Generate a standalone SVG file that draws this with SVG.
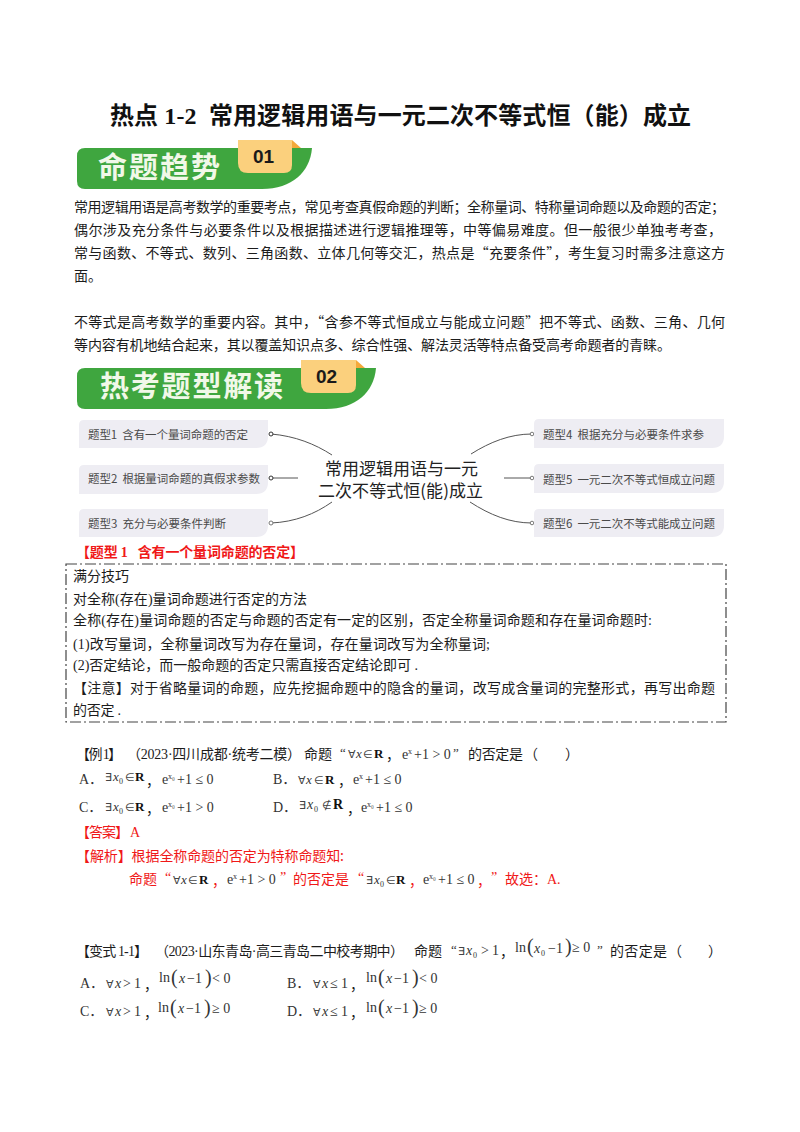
<svg xmlns="http://www.w3.org/2000/svg" width="800" height="1132" viewBox="0 0 800 1132">
<style>
text{font-family:"Noto Sans CJK SC","Liberation Sans",sans-serif;fill:#1c1c1c;font-size:14px;white-space:pre}
.l{font-family:"Liberation Serif","Noto Sans CJK SC",serif}
.m,.mi,.mb,.s,.n{font-family:"Liberation Serif","Noto Sans CJK SC",serif;font-size:13px;fill:#333}
.n{font-size:14px}
.mi{font-style:italic}.mb{font-weight:700;fill:#111}.s{font-size:8px}
.q{font-family:"DejaVu Sans",sans-serif;font-size:11px;fill:#444}
.r{fill:#f01818}.mr{font-family:"Liberation Serif","Noto Sans CJK SC",serif;font-size:14px;fill:#f01818}
.ban{fill:#3fa63f}.tab{fill:#fbd07d}.fold{fill:#f4a93a}
.bt{font-size:29px;font-weight:700;fill:#f1f8e8}.tn{font-family:"Liberation Sans",sans-serif;font-size:19px;font-weight:700;fill:#1a1a1a}
.node{fill:#eeedf3}.nt{font-size:11.5px;fill:#4a4a4a}
.conn{fill:none;stroke:#555;stroke-width:1}
.p{font-size:20px;fill:#333;font-family:"Liberation Serif",serif;font-weight:400}
</style>
<rect width="800" height="1132" fill="#fff"/>
<text class="l" x="110" y="124" textLength="581" style="font-size:24px;font-weight:700;fill:#111">热点 1-2  常用逻辑用语与一元二次不等式恒（能）成立</text>

<g id="banner1">
<path class="ban" d="M85 148H312C310 172 292 189 262 189H85Q77 189 77 181V156Q77 148 85 148Z"/>
<path class="fold" d="M292 140L301 148H292Z"/>
<path class="tab" d="M238 140H292V165Q292 173 284 173H248Q238 173 238 163Z"/>
<text class="bt" x="98" y="178" textLength="122">命题趋势</text>
<text class="tn" x="253" y="163">01</text>
</g>

<g id="intro">
<text x="74" y="212" textLength="651">常用逻辑用语是高考数学的重要考点，常见考查真假命题的判断；全称量词、特称量词命题以及命题的否定；</text>
<text x="74" y="235" textLength="648">偶尔涉及充分条件与必要条件以及根据描述进行逻辑推理等，中等偏易难度。但一般很少单独考考查，</text>
<text x="74" y="258" textLength="651">常与函数、不等式、数列、三角函数、立体几何等交汇，热点是“充要条件”，考生复习时需多注意这方</text>
<text x="74" y="281" textLength="28">面。</text>
<text x="74" y="327" textLength="651">不等式是高考数学的重要内容。其中，“含参不等式恒成立与能成立问题”把不等式、函数、三角、几何</text>
<text x="74" y="350" textLength="597">等内容有机地结合起来，其以覆盖知识点多、综合性强、解法灵活等特点备受高考命题者的青睐。</text>
</g>

<g id="banner2">
<path class="ban" d="M85 368H376C374 392 356 409 326 409H85Q77 409 77 401V376Q77 368 85 368Z"/>
<path class="fold" d="M356 360L365 368H356Z"/>
<path class="tab" d="M301 360H356V385Q356 393 348 393H311Q301 393 301 383Z"/>
<text class="bt" x="100" y="397" textLength="183">热考题型解读</text>
<text class="tn" x="316" y="383">02</text>
</g>

<g id="connectors">
<path class="conn" d="M271 434C295 436 315 444 332 455"/>
<path class="conn" d="M271 478H298"/>
<path class="conn" d="M271 523C295 522 315 514 332 502"/>
<path class="conn" d="M471 454C490 442 510 434 532 434"/>
<path class="conn" d="M504 478H532"/>
<path class="conn" d="M470 502C490 515 510 523 532 523"/>
<circle cx="271" cy="434" r="2" fill="#fff" stroke="#333"/>
<circle cx="271" cy="478" r="2" fill="#fff" stroke="#333"/>
<circle cx="271" cy="523" r="2" fill="#fff" stroke="#777"/>
<circle cx="532" cy="434" r="1.8" fill="#fff" stroke="#777"/>
<circle cx="532" cy="478" r="1.8" fill="#fff" stroke="#777"/>
<circle cx="532" cy="523" r="1.8" fill="#fff" stroke="#777"/>
</g>

<g id="center"><text x="325" y="475" style="font-size:17px;fill:#222" textLength="153">常用逻辑用语与一元</text><text x="318" y="497" style="font-size:17px;fill:#222" textLength="165">二次不等式恒(能)成立</text></g>
<g id="n1"><path class="node" d="M84 420H268V436Q268 448 256 448H79V425Q79 420 84 420Z"/><text class="nt" x="88" y="439" textLength="160">题型1  含有一个量词命题的否定</text></g>
<g id="n2"><path class="node" d="M84 465H268V482Q268 494 256 494H79V470Q79 465 84 465Z"/><text class="nt" x="88" y="483" textLength="172">题型2  根据量词命题的真假求参数</text></g>
<g id="n3"><path class="node" d="M84 509H268V525Q268 537 256 537H79V514Q79 509 84 509Z"/><text class="nt" x="88" y="528" textLength="138">题型3  充分与必要条件判断</text></g>
<g id="n4"><path class="node" d="M539 419H724V436Q724 448 712 448H534V424Q534 419 539 419Z"/><text class="nt" x="543" y="439" textLength="161">题型4  根据充分与必要条件求参</text></g>
<g id="n5"><path class="node" d="M539 464H724V481Q724 493 712 493H534V469Q534 464 539 464Z"/><text class="nt" x="543" y="484" textLength="172">题型5  一元二次不等式恒成立问题</text></g>
<g id="n6"><path class="node" d="M539 509H724V525Q724 537 712 537H534V514Q534 509 539 509Z"/><text class="nt" x="543" y="528" textLength="172">题型6  一元二次不等式能成立问题</text></g>

<text class="r l" x="76" y="557" textLength="228" style="font-weight:700">【题型 1   含有一个量词命题的否定】</text>

<g id="tipbox">
<rect x="66" y="564" width="660" height="158" fill="none" stroke="#444" stroke-width="1.2" stroke-dasharray="11 3 2 3"/>
<text class="l" x="73" y="581" textLength="56">满分技巧</text>
<text class="l" x="73" y="604" textLength="234">对全称(存在)量词命题进行否定的方法</text>
<text class="l" x="73" y="625" textLength="579">全称(存在)量词命题的否定与命题的否定有一定的区别，否定全称量词命题和存在量词命题时:</text>
<text class="l" x="73" y="649" textLength="417">(1)改写量词，全称量词改写为存在量词，存在量词改写为全称量词;</text>
<text class="l" x="73" y="670" textLength="345">(2)否定结论，而一般命题的否定只需直接否定结论即可 .</text>
<text class="l" x="73" y="693" textLength="642">【注意】对于省略量词的命题，应先挖掘命题中的隐含的量词，改写成含量词的完整形式，再写出命题</text>
<text class="l" x="73" y="715" textLength="48">的否定 .</text>
</g>

<g id="ex1">
<text class="l" x="76" y="759" textLength="46">【例 1】</text>
<text class="l" x="127" y="759" textLength="174">（2023·四川成都·统考二模）</text>
<text x="304" y="759" textLength="28">命题</text><text class="m" x="340" y="757">“</text>
<text class="m" y="758"><tspan class="q" x="348">∀</tspan><tspan class="mi" x="356">x</tspan><tspan class="q" x="363">∈</tspan><tspan class="mb" x="374">R</tspan></text><text x="386" y="760">，</text>
<text class="n" y="759"><tspan x="402">e</tspan><tspan class="s" x="408" dy="-5">x</tspan><tspan x="414" dy="5">+1 &gt; 0</tspan></text>
<text class="m" x="453" y="757">”</text><text x="468" y="759" textLength="55">的否定是</text><text x="524" y="759">（</text><text x="565" y="759">）</text>

<text class="n" x="79" y="784">A．</text><text class="m" y="781"><tspan class="q" x="105">∃</tspan><tspan class="mi" x="113">x</tspan><tspan class="s" x="119" dy="3">0</tspan><tspan class="q" x="125" dy="-3">∈</tspan><tspan class="mb" x="135">R</tspan></text><text x="146" y="786">，</text>
<text class="n" y="784"><tspan x="162">e</tspan><tspan class="s" x="168" dy="-5">x₀</tspan><tspan x="177" dy="5">+1 ≤ 0</tspan></text>
<text class="n" x="273" y="784">B．</text><text class="m" y="784"><tspan class="q" x="298">∀</tspan><tspan class="mi" x="306">x</tspan><tspan class="q" x="314">∈</tspan><tspan class="mb" x="325">R</tspan></text><text x="338" y="786">，</text>
<text class="n" y="784"><tspan x="353">e</tspan><tspan class="s" x="359" dy="-5">x</tspan><tspan x="365" dy="5">+1 ≤ 0</tspan></text>

<text class="n" x="79" y="812">C．</text><text class="m" y="811"><tspan class="q" x="105">∃</tspan><tspan class="mi" x="113">x</tspan><tspan class="s" x="119" dy="3">0</tspan><tspan class="q" x="125" dy="-3">∈</tspan><tspan class="mb" x="135">R</tspan></text><text x="146" y="814">，</text>
<text class="n" y="812"><tspan x="162">e</tspan><tspan class="s" x="168" dy="-5">x₀</tspan><tspan x="177" dy="5">+1 &gt; 0</tspan></text>
<text class="n" x="273" y="812">D．</text><text class="m" y="809"><tspan class="q" x="299">∃</tspan><tspan class="mi" x="307" style="font-size:14px">x</tspan><tspan class="s" x="314" dy="3">0</tspan><tspan class="q" x="322" dy="-3">∉</tspan><tspan class="mb" x="333" style="font-size:14px">R</tspan></text><text x="347" y="814">，</text>
<text class="n" y="812"><tspan x="361">e</tspan><tspan class="s" x="367" dy="-5">x₀</tspan><tspan x="376" dy="5">+1 ≤ 0</tspan></text>

<text class="r" x="76" y="837" textLength="53">【答案】</text><text class="mr" x="130" y="837">A</text>
<text class="r" x="76" y="861" textLength="268">【解析】根据全称命题的否定为特称命题知:</text>
<text class="r" x="129" y="884" textLength="28">命题</text><text class="mr" x="165" y="882">“</text>
<text class="m" y="884"><tspan class="q" x="173">∀</tspan><tspan class="mi" x="181">x</tspan><tspan class="q" x="188">∈</tspan><tspan class="mb" x="199">R</tspan></text><text class="r" x="212" y="886">，</text>
<text class="n" y="884"><tspan x="227">e</tspan><tspan class="s" x="233" dy="-5">x</tspan><tspan x="239" dy="5">+1 &gt; 0</tspan></text>
<text class="mr" x="280" y="882">”</text><text class="r" x="293" y="884" textLength="56">的否定是</text><text class="mr" x="358" y="882">“</text>
<text class="m" y="884"><tspan class="q" x="366">∃</tspan><tspan class="mi" x="374">x</tspan><tspan class="s" x="380" dy="3">0</tspan><tspan class="q" x="386" dy="-3">∈</tspan><tspan class="mb" x="396">R</tspan></text><text class="r" x="409" y="886">，</text>
<text class="n" y="884"><tspan x="423">e</tspan><tspan class="s" x="429" dy="-5">x₀</tspan><tspan x="438" dy="5">+1 ≤ 0</tspan></text>
<text class="r" x="477" y="886">，</text><text class="mr" x="491" y="882">”</text>
<text class="r" x="505" y="884" textLength="42">故选：</text><text class="mr" x="547" y="884">A.</text>
</g>

<g id="var1">
<text class="l" x="76" y="956" textLength="72">【变式 1-1】</text>
<text class="l" x="155" y="956" textLength="249">（2023·山东青岛·高三青岛二中校考期中）</text>
<text x="414" y="956" textLength="28">命题</text><text class="m" x="451" y="954">“</text>
<text class="n" y="955"><tspan class="q" x="458">∃</tspan><tspan class="mi" x="466" style="font-size:14px">x</tspan><tspan class="s" x="473" dy="3">0</tspan><tspan x="481" dy="-3">&gt;</tspan><tspan x="492">1</tspan></text><text x="500" y="957">，</text>
<text class="n" x="515" y="952">ln</text><text class="p" x="527" y="953">(</text><text class="mi" x="534" y="953" style="font-size:14px">x</text><text class="s" x="541" y="956">0</text><text class="n" x="548" y="953">−1</text><text class="p" x="565" y="953">)</text><text class="n" x="572" y="952">≥ 0</text>
<text class="m" x="597" y="954">”</text><text x="610" y="956" textLength="57">的否定是</text><text x="668" y="956">（</text><text x="708" y="956">）</text>

<text class="n" x="80" y="988">A．</text><text class="n" y="988"><tspan class="q" x="106">∀</tspan><tspan class="mi" x="115" style="font-size:14px">x</tspan><tspan x="123">&gt;</tspan><tspan x="134">1</tspan></text><text x="144" y="990">，</text>
<text class="n" x="159" y="982">ln</text><text class="p" x="171" y="984">(</text><text class="mi" x="179" y="983" style="font-size:14px">x</text><text class="n" x="187" y="983">−1</text><text class="p" x="205" y="984">)</text><text class="n" x="212" y="983">&lt; 0</text>
<text class="n" x="287" y="988">B．</text><text class="n" y="988"><tspan class="q" x="313">∀</tspan><tspan class="mi" x="322" style="font-size:14px">x</tspan><tspan x="330">≤</tspan><tspan x="341">1</tspan></text><text x="350" y="990">，</text>
<text class="n" x="366" y="982">ln</text><text class="p" x="378" y="984">(</text><text class="mi" x="386" y="983" style="font-size:14px">x</text><text class="n" x="394" y="983">−1</text><text class="p" x="412" y="984">)</text><text class="n" x="419" y="983">&lt; 0</text>

<text class="n" x="80" y="1016">C．</text><text class="n" y="1016"><tspan class="q" x="106">∀</tspan><tspan class="mi" x="115" style="font-size:14px">x</tspan><tspan x="123">&gt;</tspan><tspan x="134">1</tspan></text><text x="144" y="1018">，</text>
<text class="n" x="158" y="1012">ln</text><text class="p" x="170" y="1014">(</text><text class="mi" x="178" y="1013" style="font-size:14px">x</text><text class="n" x="186" y="1013">−1</text><text class="p" x="204" y="1014">)</text><text class="n" x="212" y="1013">≥ 0</text>
<text class="n" x="287" y="1016">D．</text><text class="n" y="1016"><tspan class="q" x="313">∀</tspan><tspan class="mi" x="322" style="font-size:14px">x</tspan><tspan x="330">≤</tspan><tspan x="341">1</tspan></text><text x="350" y="1018">，</text>
<text class="n" x="366" y="1012">ln</text><text class="p" x="378" y="1014">(</text><text class="mi" x="386" y="1013" style="font-size:14px">x</text><text class="n" x="394" y="1013">−1</text><text class="p" x="412" y="1014">)</text><text class="n" x="419" y="1013">≥ 0</text>
</g>
</svg>
